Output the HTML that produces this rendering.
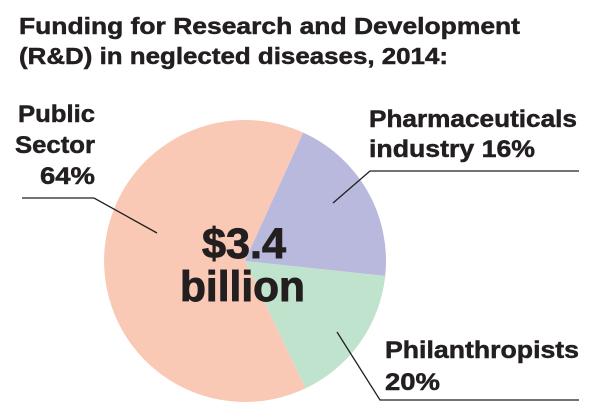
<!DOCTYPE html>
<html>
<head>
<meta charset="utf-8">
<style>
  html, body { margin: 0; padding: 0; background: #ffffff; }
  svg { display: block; }
  text { font-family: "Liberation Sans", "DejaVu Sans", sans-serif; font-weight: bold; fill: #231f20; stroke: #231f20; stroke-width: 0.5; }
  .big { stroke-width: 0.9; }
</style>
</head>
<body>
<svg width="600" height="418" viewBox="0 0 600 418" xmlns="http://www.w3.org/2000/svg">
  <rect x="0" y="0" width="600" height="418" fill="#ffffff"/>

  <!-- Title -->
  <text x="19" y="34" font-size="23" textLength="501" lengthAdjust="spacingAndGlyphs">Funding for Research and Development</text>
  <text x="19" y="64" font-size="23" textLength="429" lengthAdjust="spacingAndGlyphs">(R&amp;D) in neglected diseases, 2014:</text>

  <!-- Pie -->
  <path d="M245,261 L305.7,388.3 A141,141 0 1,1 303.3,132.6 Z" fill="#f9c9b6"/>
  <path d="M245,261 L303.3,132.6 A141,141 0 0,1 385.2,276 Z" fill="#b9b8dd"/>
  <path d="M245,261 L385.2,276 A141,141 0 0,1 305.7,388.3 Z" fill="#c0e3cd"/>

  <!-- Center text -->
  <text class="big" x="202" y="258" font-size="43" textLength="84" lengthAdjust="spacingAndGlyphs">$3.4</text>
  <text class="big" x="180" y="301" font-size="43" textLength="125" lengthAdjust="spacingAndGlyphs">billion</text>

  <!-- Left labels -->
  <text x="18" y="122" font-size="24" textLength="77" lengthAdjust="spacingAndGlyphs">Public</text>
  <text x="15" y="153" font-size="24" textLength="80" lengthAdjust="spacingAndGlyphs">Sector</text>
  <text x="40" y="184" font-size="24" textLength="55" lengthAdjust="spacingAndGlyphs">64%</text>

  <!-- Right top labels -->
  <text x="369" y="127" font-size="24" textLength="208" lengthAdjust="spacingAndGlyphs">Pharmaceuticals</text>
  <text x="369" y="157" font-size="24" textLength="166" lengthAdjust="spacingAndGlyphs">industry 16%</text>

  <!-- Right bottom labels -->
  <text x="385" y="358" font-size="24" textLength="194" lengthAdjust="spacingAndGlyphs">Philanthropists</text>
  <text x="385" y="390" font-size="24" textLength="55" lengthAdjust="spacingAndGlyphs">20%</text>

  <!-- Leader lines -->
  <g fill="none" stroke="#231f20" stroke-width="1.3">
    <polyline points="22,198 94,198 157,233"/>
    <polyline points="333,203 370,171 579,171"/>
    <polyline points="337,332 380,400 579,400"/>
  </g>
</svg>
</body>
</html>
